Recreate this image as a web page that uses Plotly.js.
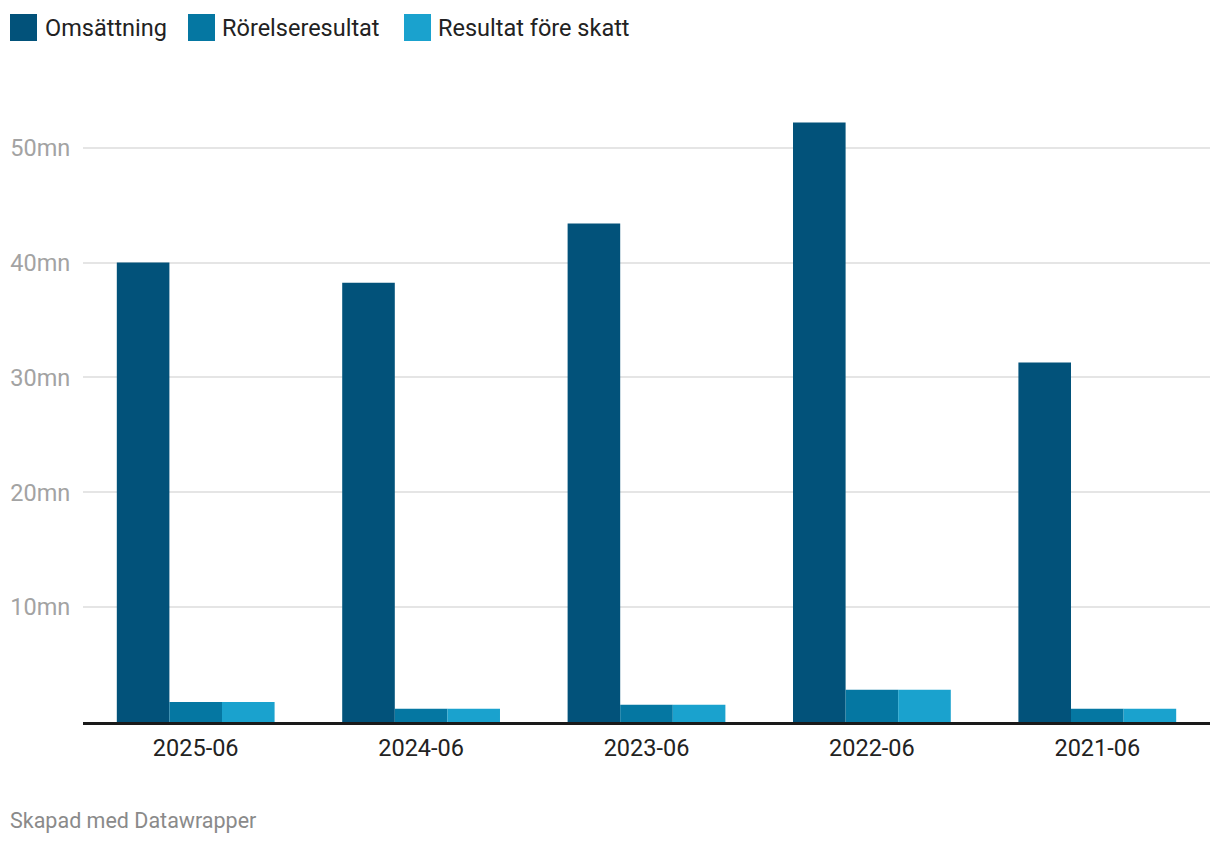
<!DOCTYPE html>
<html>
<head>
<meta charset="utf-8">
<script src="https://cdn.plot.ly/plotly-3.0.1.min.js"></script>
<style>
  html, body { margin: 0; padding: 0; background: #fff; }
  #chart { width: 1220px; height: 844px; }
</style>
</head>
<body>
<div id="chart"></div>
<script>
// Data (values in millions)
const categories = ["2025-06", "2024-06", "2023-06", "2022-06", "2021-06"];
const omsattning = [40.0, 38.25, 43.4, 52.2, 31.3];
const rorelseresultat = [1.75, 1.15, 1.5, 2.8, 1.15];
const resultatForeSkatt = [1.75, 1.15, 1.5, 2.8, 1.15];
const seriesNames = ["Omsättning", "Rörelseresultat", "Resultat före skatt"];
const seriesColors = ["#02527a", "#0577a2", "#1aa2ce"];
const yTickVals = [0, 10, 20, 30, 40, 50];
const yTickText = ["", "10mn", "20mn", "30mn", "40mn", "50mn"];

const seriesValues = [omsattning, rorelseresultat, resultatForeSkatt];

const traces = seriesValues.map((vals, i) => ({
  type: "bar",
  name: seriesNames[i],
  x: categories,
  y: vals,
  marker: { color: seriesColors[i], line: { width: 0 } },
  hoverinfo: "x+y+name",
  showlegend: false
}));

// Layout geometry (pixels)
const W = 1220, H = 844;
const mL = 83, mR = 10, mT = 88, mB = 122;
const plotW = W - mL - mR, plotH = H - mT - mB;
const px = x => (x - mL) / plotW;
const py = y => (H - mB - y) / plotH;

// Custom legend
const legendItems = [
  { sx: 10, tx: 43 },
  { sx: 188, tx: 220 },
  { sx: 404, tx: 436 }
];
const shapes = [];
const annotations = [];
legendItems.forEach((it, i) => {
  shapes.push({
    type: "rect", xref: "paper", yref: "paper",
    x0: px(it.sx), x1: px(it.sx + 27), y0: py(41), y1: py(14),
    fillcolor: seriesColors[i], line: { width: 0 }
  });
  annotations.push({
    xref: "paper", yref: "paper", x: px(it.tx), y: py(28),
    xanchor: "left", yanchor: "middle", showarrow: false,
    text: seriesNames[i],
    font: { family: "Roboto", size: 23.5, color: "#222222" }
  });
});
annotations.push({
  xref: "paper", yref: "paper", x: px(8), y: py(820),
  xanchor: "left", yanchor: "middle", showarrow: false,
  text: "Skapad med Datawrapper",
  font: { family: "Roboto", size: 21.5, color: "#8a8a8a" }
});

const layout = {
  width: W, height: H,
  margin: { l: mL, r: mR, t: mT, b: mB, pad: 0 },
  paper_bgcolor: "#ffffff",
  plot_bgcolor: "#ffffff",
  font: { family: "Roboto", color: "#222222" },
  barmode: "group",
  bargap: 0.30,
  bargroupgap: 0,
  showlegend: false,
  xaxis: {
    type: "category",
    categoryorder: "array",
    categoryarray: categories,
    showline: true, linecolor: "#1a1a1a", linewidth: 2.5,
    showgrid: false, zeroline: false,
    ticks: "outside", ticklen: 3, tickcolor: "rgba(0,0,0,0)",
    tickfont: { family: "Roboto", size: 23.5, color: "#222222" }
  },
  yaxis: {
    range: [0, 55.2],
    tickvals: yTickVals,
    ticktext: yTickText,
    showgrid: true, gridcolor: "#e5e5e5", gridwidth: 2,
    zeroline: false, showline: false,
    ticks: "outside", ticklen: 7, tickcolor: "rgba(0,0,0,0)",
    tickfont: { family: "Roboto", size: 23.5, color: "#a3a3a3" }
  },
  shapes: shapes,
  annotations: annotations
};

Plotly.newPlot("chart", traces, layout, { displayModeBar: false, staticPlot: false });
</script>
</body>
</html>
